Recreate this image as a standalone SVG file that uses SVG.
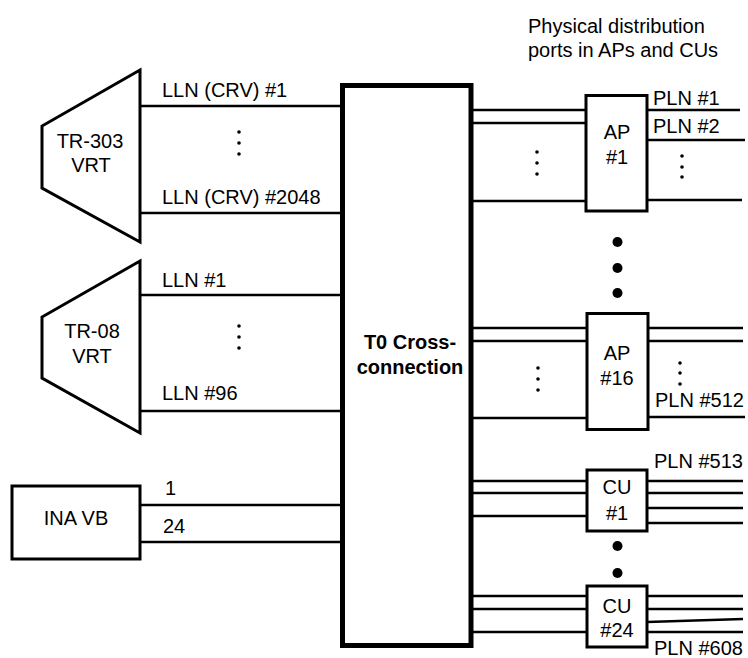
<svg xmlns="http://www.w3.org/2000/svg" width="748" height="658" viewBox="0 0 748 658">
<style>
text { font-family: "Liberation Sans", Arial, sans-serif; font-size: 20px; fill: #000; }
.c { text-anchor: middle; }
.b { font-weight: bold; }
.shape { fill: #fff; stroke: #000; stroke-width: 3; }
.ln { stroke: #000; stroke-width: 2.7; fill: none; }
.sd { fill: #000; }
</style>
<rect width="748" height="658" fill="#fff"/>
<g id="connectors">
  <line class="ln" x1="140" y1="106" x2="342" y2="106"/>
  <line class="ln" x1="140" y1="213" x2="342" y2="213"/>
  <line class="ln" x1="140" y1="295" x2="342" y2="295"/>
  <line class="ln" x1="140" y1="411" x2="342" y2="411"/>
  <line class="ln" x1="140" y1="505" x2="342" y2="505"/>
  <line class="ln" x1="140" y1="542" x2="342" y2="542"/>
  <line class="ln" x1="471" y1="110" x2="586" y2="110"/>
  <line class="ln" x1="471" y1="123" x2="586" y2="123"/>
  <line class="ln" x1="471" y1="201" x2="586" y2="201"/>
  <line class="ln" x1="647" y1="110" x2="740" y2="110"/>
  <line class="ln" x1="647" y1="140" x2="745" y2="140"/>
  <line class="ln" x1="647" y1="200" x2="742" y2="200"/>
  <line class="ln" x1="471" y1="328" x2="586" y2="328"/>
  <line class="ln" x1="471" y1="341" x2="586" y2="341"/>
  <line class="ln" x1="471" y1="418" x2="586" y2="418"/>
  <line class="ln" x1="647" y1="328" x2="743" y2="328"/>
  <line class="ln" x1="647" y1="341" x2="743" y2="341"/>
  <line class="ln" x1="647" y1="417" x2="745" y2="417"/>
  <line class="ln" x1="471" y1="481" x2="586" y2="481"/>
  <line class="ln" x1="471" y1="493" x2="586" y2="493"/>
  <line class="ln" x1="471" y1="516" x2="586" y2="516"/>
  <line class="ln" x1="647" y1="481" x2="743" y2="481"/>
  <line class="ln" x1="647" y1="493" x2="743" y2="493"/>
  <line class="ln" x1="647" y1="508" x2="743" y2="508"/>
  <line class="ln" x1="647" y1="523" x2="743" y2="523"/>
  <line class="ln" x1="471" y1="596" x2="586" y2="596"/>
  <line class="ln" x1="471" y1="609" x2="586" y2="609"/>
  <line class="ln" x1="471" y1="632" x2="586" y2="632"/>
  <line class="ln" x1="647" y1="596" x2="743" y2="596"/>
  <line class="ln" x1="647" y1="609" x2="743" y2="609"/>
  <line class="ln" x1="647" y1="622" x2="743" y2="619"/>
  <line class="ln" x1="647" y1="632" x2="743" y2="632"/>
</g>
<g id="labels">
  <text x="162" y="97">LLN (CRV) #1</text>
  <text x="162" y="204">LLN (CRV) #2048</text>
  <text x="162" y="287">LLN #1</text>
  <text x="162" y="400">LLN #96</text>
  <text x="165" y="495">1</text>
  <text x="163" y="533">24</text>
  <text x="528" y="33">Physical distribution</text>
  <text x="528" y="57">ports in APs and CUs</text>
  <text x="653" y="105">PLN #1</text>
  <text x="653" y="133">PLN #2</text>
  <text x="655" y="407">PLN #512</text>
  <text x="654" y="468">PLN #513</text>
  <text x="654" y="655">PLN #608</text>
</g>
<g id="ellipses">
  <circle class="sd" cx="239" cy="132" r="1.8"/><circle class="sd" cx="239" cy="143" r="1.8"/><circle class="sd" cx="239" cy="154" r="1.8"/>
  <circle class="sd" cx="239" cy="326" r="1.8"/><circle class="sd" cx="239" cy="337" r="1.8"/><circle class="sd" cx="239" cy="348" r="1.8"/>
  <circle class="sd" cx="537" cy="152" r="1.8"/><circle class="sd" cx="537" cy="163" r="1.8"/><circle class="sd" cx="537" cy="174" r="1.8"/>
  <circle class="sd" cx="682" cy="156" r="1.8"/><circle class="sd" cx="682" cy="167" r="1.8"/><circle class="sd" cx="682" cy="177" r="1.8"/>
  <circle class="sd" cx="538" cy="368" r="1.8"/><circle class="sd" cx="538" cy="379" r="1.8"/><circle class="sd" cx="538" cy="390" r="1.8"/>
  <circle class="sd" cx="680" cy="363" r="1.8"/><circle class="sd" cx="680" cy="373" r="1.8"/><circle class="sd" cx="680" cy="384" r="1.8"/>
  <circle class="sd" cx="617.5" cy="242" r="5"/><circle class="sd" cx="617.5" cy="268" r="5"/><circle class="sd" cx="617.5" cy="293" r="5"/>
  <circle class="sd" cx="617.5" cy="546" r="5"/><circle class="sd" cx="617.5" cy="573" r="5"/>
</g>
<g id="tr303">
  <polygon class="shape" points="140,70 42,126 42,188 140,242" stroke-width="2.7"/>
  <text class="c" x="90" y="148">TR-303</text>
  <text class="c" x="91" y="172">VRT</text>
</g>
<g id="tr08">
  <polygon class="shape" points="140,261 42,317 42,378 140,433" stroke-width="2.7"/>
  <text class="c" x="92" y="338">TR-08</text>
  <text class="c" x="92" y="363">VRT</text>
</g>
<g id="inavb">
  <rect class="shape" x="12" y="486" width="128" height="73"/>
  <text class="c" x="76" y="525">INA VB</text>
</g>
<g id="t0">
  <rect x="342.5" y="85.5" width="128.5" height="560" fill="#fff" stroke="#000" stroke-width="5"/>
  <text class="c b" x="410" y="349">T0 Cross-</text>
  <text class="c b" x="410" y="374">connection</text>
</g>
<g id="ap1">
  <rect class="shape" x="586" y="95.5" width="61" height="115.5"/>
  <text class="c" x="617" y="139">AP</text>
  <text class="c" x="617" y="164">#1</text>
</g>
<g id="ap16">
  <rect class="shape" x="587" y="313.5" width="61" height="116"/>
  <text class="c" x="617" y="360">AP</text>
  <text class="c" x="617" y="385">#16</text>
</g>
<g id="cu1">
  <rect class="shape" x="587" y="470" width="60" height="61"/>
  <text class="c" x="617" y="494">CU</text>
  <text class="c" x="617" y="520">#1</text>
</g>
<g id="cu24">
  <rect class="shape" x="587" y="586" width="60" height="61"/>
  <text class="c" x="617" y="613">CU</text>
  <text class="c" x="617" y="637">#24</text>
</g>
</svg>
